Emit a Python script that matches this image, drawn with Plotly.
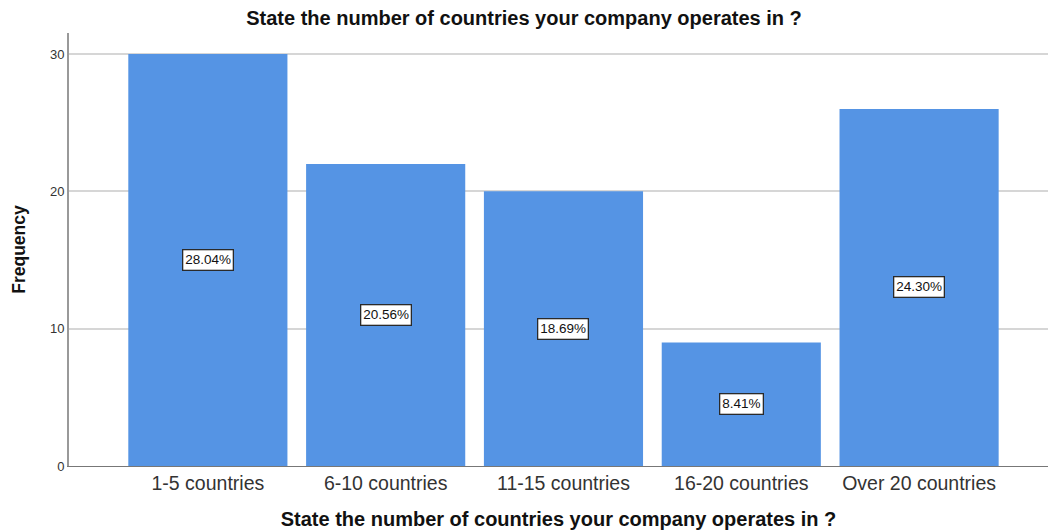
import plotly.graph_objects as go

# Survey responses: number of countries the company operates in
categories = ["1-5 countries", "6-10 countries", "11-15 countries", "16-20 countries", "Over 20 countries"]
frequencies = [30, 22, 20, 9, 26]
y_ticks = [0, 10, 20, 30]

question = "State the number of countries your company operates in ?"
bar_color = "#5594E4"
font_family = "Liberation Sans, Arial, sans-serif"

total = sum(frequencies)
percent_labels = [f"{f / total * 100:.2f}%" for f in frequencies]

fig = go.Figure(
    go.Bar(
        x=categories,
        y=frequencies,
        marker=dict(color=bar_color, line=dict(width=0)),
        hoverinfo="x+y",
    )
)

# Percentage boxes sit halfway up each bar
for cat, f, lab in zip(categories, frequencies, percent_labels):
    fig.add_annotation(
        x=cat, y=f / 2, text=lab, showarrow=False,
        font=dict(family=font_family, size=13.5, color="#111111"),
        bgcolor="white", bordercolor="#2a2a2a", borderwidth=1.3, borderpad=2,
    )

fig.update_layout(
    width=1048, height=530,
    margin=dict(l=69, r=0, t=33, b=64),
    paper_bgcolor="white", plot_bgcolor="white",
    bargap=0.105,
    showlegend=False,
    font=dict(family=font_family, color="#222222"),
    title=dict(
        text=question, x=0.5, xanchor="center", y=1 - 18 / 530, yanchor="middle",
        yref="container",
        font=dict(family=font_family, size=20, color="#111111", weight="bold"),
    ),
    xaxis=dict(
        range=[-0.781, 4.725],
        showgrid=False, zeroline=False,
        showline=True, linecolor="#777777", linewidth=1,
        ticks="", tickfont=dict(size=19.5, color="#333333"),
        title=dict(text=question, standoff=20,
                   font=dict(family=font_family, size=20, color="#111111", weight="bold")),
    ),
    yaxis=dict(
        range=[0, 31.53],
        tickvals=y_ticks,
        showgrid=True, gridcolor="#d6d6d6", gridwidth=1.5,
        zeroline=False,
        showline=True, linecolor="#999999", linewidth=2,
        ticks="", tickfont=dict(size=13, color="#333333"),
        title=dict(text="Frequency", standoff=20,
                   font=dict(family=font_family, size=17.5, color="#111111", weight="bold")),
    ),
)

fig.write_html("out.html")
